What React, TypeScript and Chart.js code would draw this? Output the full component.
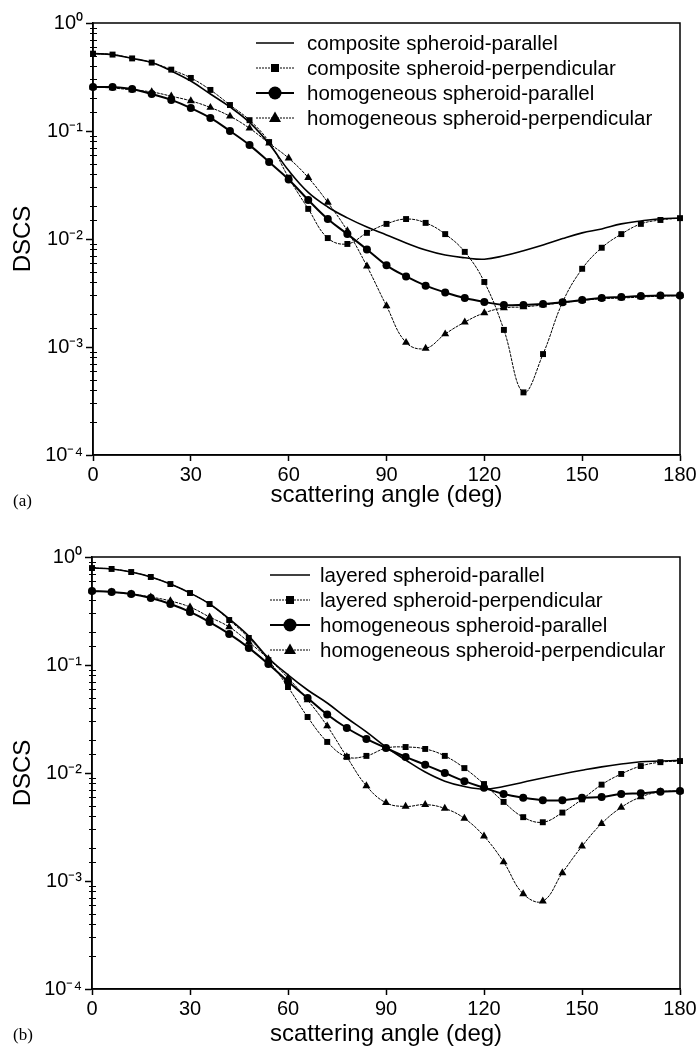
import React, { useEffect, useRef } from 'react';
import { Chart, registerables } from 'chart.js';

Chart.register(...registerables);

// ---------------- data ----------------
const ANGLES = [0, 6, 12, 18, 24, 30, 36, 42, 48, 54, 60, 66, 72, 78, 84, 90, 96, 102, 108, 114, 120, 126, 132, 138, 144, 150, 156, 162, 168, 174, 180];

const X_TICKS = [0, 30, 60, 90, 120, 150, 180];
const Y_TICK_VALUES = [1e-4, 1e-3, 1e-2, 1e-1, 1];
const Y_TICK_LABELS = ['10⁻⁴', '10⁻³', '10⁻²', '10⁻¹', '10⁰'];

const X_TITLE = 'scattering angle (deg)';
const Y_TITLE = 'DSCS';

const A_LABELS = [
  'composite spheroid-parallel',
  'composite spheroid-perpendicular',
  'homogeneous spheroid-parallel',
  'homogeneous spheroid-perpendicular',
];
const A_COMPOSITE_PAR = [0.52, 0.51, 0.47, 0.43, 0.36, 0.29, 0.22, 0.167, 0.12, 0.076, 0.043, 0.027, 0.0198, 0.0157, 0.0129, 0.0109, 0.0092, 0.0079, 0.0071, 0.0067, 0.0065, 0.0070, 0.0078, 0.0088, 0.0101, 0.0114, 0.0124, 0.0138, 0.0147, 0.0154, 0.0156];
const A_COMPOSITE_PERP = [0.52, 0.51, 0.47, 0.43, 0.37, 0.31, 0.24, 0.174, 0.126, 0.079, 0.037, 0.019, 0.0102, 0.0090, 0.0114, 0.0138, 0.0153, 0.0141, 0.0111, 0.0076, 0.0040, 0.00144, 0.00038, 0.00086, 0.0026, 0.0053, 0.0083, 0.0111, 0.0138, 0.0150, 0.0156];
const A_HOMOG_PAR = [0.255, 0.255, 0.245, 0.22, 0.194, 0.163, 0.132, 0.100, 0.074, 0.0516, 0.0356, 0.023, 0.0153, 0.0111, 0.0080, 0.0057, 0.0045, 0.0037, 0.0032, 0.00284, 0.00261, 0.00245, 0.00245, 0.0025, 0.0026, 0.00272, 0.00284, 0.0029, 0.00296, 0.0030, 0.0030];
const A_HOMOG_PERP = [0.255, 0.25, 0.24, 0.23, 0.21, 0.19, 0.165, 0.137, 0.106, 0.077, 0.056, 0.037, 0.0218, 0.0119, 0.0056, 0.0024, 0.00110, 0.00097, 0.00132, 0.0017, 0.00207, 0.0023, 0.00235, 0.00245, 0.00257, 0.0027, 0.0028, 0.00284, 0.0029, 0.00296, 0.0030];

const B_LABELS = [
  'layered spheroid-parallel',
  'layered spheroid-perpendicular',
  'homogeneous spheroid-parallel',
  'homogeneous spheroid-perpendicular',
];
const B_LAYERED_PAR = [0.79, 0.775, 0.726, 0.653, 0.562, 0.464, 0.367, 0.267, 0.185, 0.116, 0.081, 0.0587, 0.0445, 0.0323, 0.024, 0.0174, 0.0132, 0.0102, 0.0084, 0.0075, 0.0071, 0.0075, 0.0082, 0.0090, 0.0098, 0.0106, 0.0114, 0.0121, 0.0127, 0.0129, 0.0131];
const B_LAYERED_PERP = [0.79, 0.775, 0.726, 0.653, 0.562, 0.464, 0.367, 0.261, 0.178, 0.111, 0.0625, 0.033, 0.0194, 0.0141, 0.0144, 0.0170, 0.0174, 0.0167, 0.0144, 0.0111, 0.0079, 0.0054, 0.0039, 0.0035, 0.0043, 0.0057, 0.0078, 0.0098, 0.0116, 0.0126, 0.0129];
const B_HOMOG_PAR = [0.484, 0.474, 0.454, 0.417, 0.367, 0.31, 0.25, 0.194, 0.144, 0.102, 0.0703, 0.0495, 0.0348, 0.0261, 0.0207, 0.0170, 0.0141, 0.0119, 0.0100, 0.0084, 0.0073, 0.0064, 0.0059, 0.0056, 0.0056, 0.0059, 0.0060, 0.0064, 0.0065, 0.0067, 0.0068];
const B_HOMOG_PERP = [0.484, 0.474, 0.454, 0.426, 0.392, 0.344, 0.278, 0.225, 0.163, 0.114, 0.076, 0.0474, 0.0272, 0.0141, 0.0076, 0.0053, 0.0049, 0.0051, 0.0047, 0.0038, 0.0026, 0.0015, 0.00076, 0.00065, 0.00119, 0.0021, 0.0034, 0.0048, 0.0060, 0.0067, 0.0068];

// ---------------- styling ----------------
const FONT = '"Liberation Sans", Arial, Helvetica, sans-serif';
const SERIF = '"Liberation Serif", "Times New Roman", Times, serif';

type SeriesStyle = {
  borderWidth: number;
  borderDash: number[];
  pointStyle: string | false;
  pointRadius: number;
  legendSize: number;
};

const STYLES: SeriesStyle[] = [
  { borderWidth: 1.6, borderDash: [], pointStyle: false, pointRadius: 0, legendSize: 0 },
  { borderWidth: 1, borderDash: [3, 1], pointStyle: 'rect', pointRadius: 4.2, legendSize: 8 },
  { borderWidth: 2, borderDash: [], pointStyle: 'circle', pointRadius: 4, legendSize: 13 },
  { borderWidth: 1, borderDash: [3, 1], pointStyle: 'triangle', pointRadius: 4.6, legendSize: 12 },
];

const isPow10 = (v: number) => {
  const l = Math.log10(v);
  return Math.abs(l - Math.round(l)) < 1e-6;
};

const decorPlugin = {
  id: 'decor',
  afterDraw(chart: any, _args: any, opts: any) {
    const ctx: CanvasRenderingContext2D = chart.ctx;
    const { left, right, top, bottom } = chart.chartArea;
    ctx.save();
    // frame
    ctx.strokeStyle = '#000';
    ctx.lineWidth = 1.5;
    ctx.setLineDash([]);
    ctx.strokeRect(left, top, right - left, bottom - top);
    // minor log ticks
    const ys = chart.scales.y;
    ctx.lineWidth = 1;
    ys.ticks.forEach((t: any) => {
      if (isPow10(t.value)) return;
      const py = Math.round(ys.getPixelForValue(t.value)) + 0.5;
      ctx.beginPath();
      ctx.moveTo(left - 3, py);
      ctx.lineTo(left + 4, py);
      ctx.stroke();
    });
    // legend
    const lg = opts.legend;
    chart.data.datasets.forEach((ds: any, i: number) => {
      const st = STYLES[i];
      const y = lg.y0 + i * lg.dy;
      ctx.strokeStyle = '#000';
      ctx.fillStyle = '#000';
      ctx.lineWidth = st.borderWidth;
      ctx.setLineDash(st.borderDash.length ? [2, 1] : []);
      ctx.beginPath();
      ctx.moveTo(lg.x0, y);
      ctx.lineTo(lg.x1, y);
      ctx.stroke();
      ctx.setLineDash([]);
      const cx = (lg.x0 + lg.x1) / 2;
      const s = st.legendSize;
      if (st.pointStyle === 'rect') {
        ctx.fillRect(cx - s / 2, y - s / 2, s, s);
      } else if (st.pointStyle === 'circle') {
        ctx.beginPath();
        ctx.arc(cx, y, s / 2, 0, Math.PI * 2);
        ctx.fill();
      } else if (st.pointStyle === 'triangle') {
        const h = (s * Math.sqrt(3)) / 2;
        ctx.beginPath();
        ctx.moveTo(cx, y - h * 0.62);
        ctx.lineTo(cx + s / 2, y + h * 0.38);
        ctx.lineTo(cx - s / 2, y + h * 0.38);
        ctx.closePath();
        ctx.fill();
      }
      ctx.font = `20.5px ${FONT}`;
      ctx.textBaseline = 'middle';
      ctx.textAlign = 'left';
      ctx.fillText(ds.label, lg.textX, y + 1);
    });
    ctx.restore();
  },
};

type PanelProps = {
  top: number;
  height: number;
  plotTop: number;
  plotBottom: number;
  axisLeft: number;
  xTitlePad: number;
  labels: string[];
  series: number[][];
  legend: { x0: number; x1: number; textX: number; y0: number; dy: number };
  tag: string;
  tagY: number;
};

function Panel(p: PanelProps) {
  const ref = useRef<HTMLCanvasElement>(null);
  useEffect(() => {
    if (!ref.current) return;
    const datasets = p.series.map((vals, i) => {
      const st = STYLES[i];
      return {
        label: p.labels[i],
        data: ANGLES.map((a, j) => ({ x: a, y: vals[j] })),
        borderColor: '#000',
        backgroundColor: '#000',
        borderWidth: st.borderWidth,
        borderDash: st.borderDash,
        pointStyle: st.pointStyle,
        pointRadius: st.pointRadius,
        pointBackgroundColor: '#000',
        pointBorderColor: '#000',
        pointBorderWidth: 0,
        tension: 0.4,
        clip: false,
        order: i,
      };
    });
    const chart = new Chart(ref.current, {
      type: 'line',
      data: { datasets } as any,
      plugins: [decorPlugin as any],
      options: {
        responsive: false,
        maintainAspectRatio: false,
        animation: false,
        devicePixelRatio: 1,
        events: [],
        layout: { padding: { top: p.plotTop, right: 20, left: 0, bottom: 0 } },
        plugins: {
          legend: { display: false },
          tooltip: { enabled: false },
          decor: { legend: p.legend },
        } as any,
        scales: {
          x: {
            type: 'linear',
            min: 0,
            max: 180,
            afterBuildTicks: (scale: any) => {
              scale.ticks = X_TICKS.map((v) => ({ value: v }));
            },
            afterFit: (scale: any) => {
              scale.height = p.height - p.plotBottom;
            },
            ticks: {
              color: '#000',
              font: { family: FONT, size: 20 },
              padding: 2,
              maxRotation: 0,
              autoSkip: false,
            },
            grid: {
              display: true,
              drawOnChartArea: false,
              drawTicks: true,
              tickLength: 6,
              color: '#000',
              tickWidth: 1.5,
            },
            border: { display: true, color: '#000', width: 1.5 },
            title: {
              display: true,
              text: X_TITLE,
              color: '#000',
              font: { family: FONT, size: 24 },
              padding: { top: 0, bottom: p.xTitlePad },
            },
          },
          y: {
            type: 'logarithmic',
            min: 1e-4,
            max: 1,
            afterFit: (scale: any) => {
              scale.width = p.axisLeft;
            },
            ticks: {
              color: '#000',
              font: { family: FONT, size: 20 },
              padding: 3,
              autoSkip: false,
              callback: (value: any) => {
                const v = Number(value);
                const i = Y_TICK_VALUES.findIndex((t) => Math.abs(t - v) / t < 1e-6);
                return i >= 0 ? Y_TICK_LABELS[i] : '';
              },
            },
            grid: {
              display: true,
              drawOnChartArea: false,
              drawTicks: true,
              tickLength: 7,
              tickWidth: 1.5,
              tickColor: (c: any) => (c.tick && isPow10(c.tick.value) ? '#000' : 'rgba(0,0,0,0)'),
            },
            border: { display: true, color: '#000', width: 1.5 },
            title: {
              display: true,
              text: Y_TITLE,
              color: '#000',
              font: { family: FONT, size: 24 },
              padding: { top: 9, bottom: 0 },
            },
          },
        },
      } as any,
    });
    return () => chart.destroy();
  }, []);
  return (
    <div style={{ position: 'absolute', left: 0, top: p.top, width: 700, height: p.height }}>
      <canvas ref={ref} width={700} height={p.height} style={{ display: 'block' }} />
      <div
        style={{
          position: 'absolute',
          left: 13,
          top: p.tagY - p.top - 11,
          height: 22,
          lineHeight: '22px',
          fontFamily: SERIF,
          fontSize: 17,
          color: '#000',
        }}
      >
        {p.tag}
      </div>
    </div>
  );
}

export default function App() {
  return (
    <div style={{ position: 'absolute', left: 0, top: 0, width: 700, height: 1051, background: '#fff', overflow: 'hidden' }}>
      <Panel
        top={0}
        height={520}
        plotTop={23}
        plotBottom={455}
        axisLeft={93}
        xTitlePad={10}
        labels={A_LABELS}
        series={[A_COMPOSITE_PAR, A_COMPOSITE_PERP, A_HOMOG_PAR, A_HOMOG_PERP]}
        legend={{ x0: 256, x1: 294, textX: 307, y0: 43, dy: 25 }}
        tag="(a)"
        tagY={501}
      />
      <Panel
        top={530}
        height={521}
        plotTop={27}
        plotBottom={459}
        axisLeft={92}
        xTitlePad={2}
        labels={B_LABELS}
        series={[B_LAYERED_PAR, B_LAYERED_PERP, B_HOMOG_PAR, B_HOMOG_PERP]}
        legend={{ x0: 270, x1: 310, textX: 320, y0: 45, dy: 25 }}
        tag="(b)"
        tagY={1035}
      />
    </div>
  );
}
